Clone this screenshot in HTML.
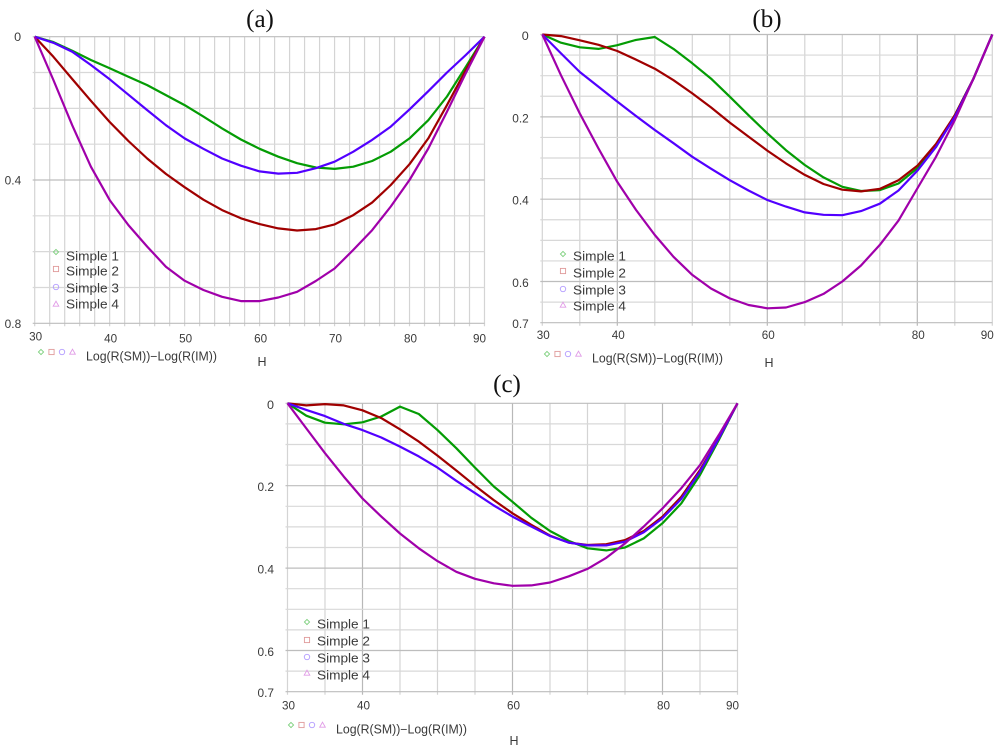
<!DOCTYPE html>
<html lang="en">
<head>
<meta charset="utf-8">
<title>Log(R(SM))-Log(R(IM)) versus H</title>
<style>
html,body{margin:0;padding:0;background:#fff;width:1000px;height:753px;overflow:hidden}
svg{display:block}
.title{font-family:"Liberation Serif",serif;font-size:25px;fill:#111;text-anchor:middle}
.tick,.legend-text,.axis-text{font-family:"Liberation Sans",sans-serif;fill:#3a3a3a;filter:blur(0.25px)}
.tick{font-size:11.5px}
.legend-text{font-size:12.5px}
.axis-text{font-size:12.5px}
</style>
</head>
<body>
<svg id="figure" width="1000" height="753" viewBox="0 0 1000 753" xmlns="http://www.w3.org/2000/svg">
  <text class="title" x="260" y="27">(a)</text>
  <text class="title" x="767" y="27">(b)</text>
  <text class="title" x="507" y="392">(c)</text>
</svg>
<script>
const hValues = [30,32.5,35,37.5,40,42.5,45,47.5,50,52.5,55,57.5,60,62.5,65,67.5,70,72.5,75,77.5,80,82.5,85,87.5,90];
const seriesNames = ["Simple 1","Simple 2","Simple 3","Simple 4"];
const seriesColors = ["#049c04","#a00000","#5200ff","#a000aa"];
const legendColors = ["#7fd07f","#e09a9a","#b39cff","#e09ae6"];

const panelASimple1 = [0,.015,.039,.065,.088,.112,.135,.163,.191,.223,.256,.287,.313,.335,.353,.365,.369,.363,.347,.321,.284,.233,.167,.084,0];
const panelASimple2 = [0,.056,.118,.179,.238,.291,.340,.383,.420,.455,.484,.507,.523,.535,.541,.537,.524,.498,.463,.414,.356,.284,.191,.093,0];
const panelASimple3 = [0,.017,.042,.079,.119,.162,.205,.247,.284,.313,.340,.360,.376,.382,.380,.367,.349,.321,.288,.251,.203,.152,.100,.051,0];
const panelASimple4 = [0,.121,.247,.363,.456,.526,.586,.642,.681,.707,.726,.738,.738,.728,.712,.682,.647,.595,.540,.474,.400,.312,.209,.102,0];

const panelBSimple1 = [0,.020,.031,.035,.026,.013,.006,.035,.070,.107,.151,.196,.240,.281,.317,.347,.370,.380,.378,.362,.325,.273,.196,.107,0];
const panelBSimple2 = [0,.004,.014,.025,.040,.061,.083,.111,.143,.177,.214,.248,.282,.313,.341,.363,.377,.381,.375,.354,.319,.266,.196,.107,0];
const panelBSimple3 = [0,.046,.091,.127,.163,.198,.232,.264,.297,.326,.354,.379,.402,.418,.432,.438,.439,.429,.411,.379,.331,.273,.200,.107,0];
const panelBSimple4 = [0,.099,.192,.277,.358,.426,.487,.540,.584,.617,.641,.657,.665,.663,.650,.630,.600,.561,.511,.452,.374,.297,.208,.107,0];

const panelCSimple1 = [0,.030,.047,.051,.046,.032,.008,.026,.065,.109,.156,.202,.239,.278,.310,.334,.352,.357,.350,.328,.291,.243,.174,.089,0];
const panelCSimple2 = [0,.005,.002,.005,.017,.036,.063,.093,.127,.163,.200,.235,.267,.295,.321,.338,.344,.342,.332,.310,.275,.227,.162,.085,0];
const panelCSimple3 = [0,.016,.031,.050,.065,.083,.105,.129,.156,.188,.218,.248,.275,.299,.322,.338,.345,.345,.336,.313,.279,.232,.166,.085,0];
const panelCSimple4 = [0,.061,.121,.178,.231,.275,.316,.352,.383,.409,.426,.437,.443,.442,.435,.420,.402,.375,.340,.299,.255,.206,.150,.077,0];

const panelAXTicks = [30,40,50,60,70,80,90];
const panelAYTicks = ["0","0.4","0.8"];
const panelBXTicks = [30,40,60,80,90];
const panelBYTicks = ["0","0.2","0.4","0.6","0.7"];
const panelCXTicks = [30,40,60,80,90];
const panelCYTicks = ["0","0.2","0.4","0.6","0.7"];

const svg = document.getElementById('figure');
const NS = 'http://www.w3.org/2000/svg';

function make(parent, tag, attrs, text) {
  const node = document.createElementNS(NS, tag);
  for (const k in attrs) node.setAttribute(k, attrs[k]);
  if (text !== undefined) node.textContent = text;
  parent.appendChild(node);
  return node;
}

function drawMarker(parent, kind, cx, cy, color) {
  let m;
  if (kind === 0) {
    m = make(parent, 'polygon', {points: `${cx},${cy-2.6} ${cx+2.6},${cy} ${cx},${cy+2.6} ${cx-2.6},${cy}`, fill: 'none', stroke: color, 'stroke-width': 0.9});
  } else if (kind === 1) {
    m = make(parent, 'rect', {x: cx-2.6, y: cy-2.6, width: 5.2, height: 5.2, fill: 'none', stroke: color, 'stroke-width': 0.9});
  } else if (kind === 2) {
    m = make(parent, 'circle', {cx: cx, cy: cy, r: 2.7, fill: 'none', stroke: color, 'stroke-width': 0.9});
  } else {
    m = make(parent, 'polygon', {points: `${cx},${cy-2.8} ${cx+2.8},${cy+2.2} ${cx-2.8},${cy+2.2}`, fill: 'none', stroke: color, 'stroke-width': 0.9});
  }
  
  
}

function drawPanel(p) {
  const g = make(svg, 'g', {});
  
  

  const xScale = h => p.left + (h - 30) / 60 * (p.right - p.left);
  const yScale = v => p.top + v / p.yMax * (p.bottom - p.top);

  for (let h = 30; h <= 90; h += p.xStep) {
    const major = p.xMajor && p.xMajor.includes(h);
    const line = make(g, 'line', {x1: xScale(h), x2: xScale(h), y1: p.top, y2: p.bottom + 3, stroke: major ? '#b8b8b8' : '#d4d4d4', 'stroke-width': 1.2});
    
    
  }
  const yCount = Math.round(p.yMax / p.yStep);
  for (let i = 0; i <= yCount; i++) {
    const v = i * p.yStep;
    const major = p.yTicks.includes(String(+v.toFixed(2)));
    const line = make(g, 'line', {x1: p.left - 2, x2: p.right, y1: yScale(v), y2: yScale(v), stroke: major ? '#bdbdbd' : '#d8d8d8', 'stroke-width': 1.2});
    
    
  }

  p.yTicks.forEach(label => {
    const t = make(g, 'text', {class: 'tick', x: p.left - 13.5, y: yScale(+label) + 4 + p.yTickDy, 'text-anchor': 'end', textLength: label.length > 1 ? 16.5 : 7, lengthAdjust: 'spacingAndGlyphs'}, label);
    
    
  });
  p.xTicks.forEach((label, i) => {
    const shift = i === 0 ? 1 : (i === p.xTicks.length - 1 ? -5 : 1);
    const t = make(g, 'text', {class: 'tick', x: xScale(label) + shift, y: p.bottom + (i === 0 ? p.firstTickDy : p.xTickDy), 'text-anchor': 'middle', textLength: 13, lengthAdjust: 'spacingAndGlyphs'}, String(label));
    
    
  });

  p.series.forEach((values, i) => {
    const pts = values.map((v, k) => xScale(hValues[k]).toFixed(1) + ',' + yScale(v).toFixed(1)).join(' ');
    const line = make(g, 'polyline', {points: pts, fill: 'none', stroke: seriesColors[i], 'stroke-width': 2.2, 'stroke-linejoin': 'round'});
    
    
  });

  seriesNames.forEach((name, i) => {
    drawMarker(g, i, p.legendX, p.legendMarkerY[i], legendColors[i]);
    const t = make(g, 'text', {class: 'legend-text', x: p.legendX + 10, y: p.legendTextY[i] + 4.5, textLength: 53, lengthAdjust: 'spacingAndGlyphs'}, name);
    
    
    drawMarker(g, i, p.rowX + i * 10.5, p.rowY, legendColors[i]);
  });

  const yTitle = make(g, 'text', {class: 'axis-text', x: p.rowX + 45, y: p.rowY + 8.5, textLength: 131, lengthAdjust: 'spacingAndGlyphs'}, 'Log(R(SM))\u2212Log(R(IM))');
  
  

  const xTitle = make(g, 'text', {class: 'axis-text', x: p.hX, y: p.hY, 'text-anchor': 'middle', 'font-size': 11}, 'H');
  
  
}

drawPanel({
  id: 'a', left: 34.7, right: 484.5, top: 36.7, bottom: 323.3, yMax: 0.8, yStep: 0.1, xStep: 2,
  xTicks: panelAXTicks, yTicks: panelAYTicks, yTickDy: 0.5, xTickDy: 19, firstTickDy: 17,
  series: [panelASimple1, panelASimple2, panelASimple3, panelASimple4],
  legendX: 56, legendMarkerY: [252, 269, 287, 304], legendTextY: [256, 271, 288, 304],
  rowX: 41, rowY: 352, hX: 262, hY: 366
});
drawPanel({
  id: 'b', left: 542.3, right: 992.3, top: 34.5, bottom: 322.7, yMax: 0.7, yStep: 0.05, xStep: 5, xMajor: [40, 60, 80],
  xTicks: panelBXTicks, yTicks: panelBYTicks, yTickDy: 1.5, xTickDy: 16.5, firstTickDy: 16.5,
  series: [panelBSimple1, panelBSimple2, panelBSimple3, panelBSimple4],
  legendX: 563, legendMarkerY: [254, 271, 289, 305], legendTextY: [256, 273, 290, 306],
  rowX: 547, rowY: 354, hX: 769, hY: 367
});
drawPanel({
  id: 'c', left: 287.5, right: 737.5, top: 403.3, bottom: 691.7, yMax: 0.7, yStep: 0.05, xStep: 5, xMajor: [40, 60, 80],
  xTicks: panelCXTicks, yTicks: panelCYTicks, yTickDy: 1.5, xTickDy: 18, firstTickDy: 18,
  series: [panelCSimple1, panelCSimple2, panelCSimple3, panelCSimple4],
  legendX: 307, legendMarkerY: [622, 640, 657, 673], legendTextY: [624, 641, 658, 675],
  rowX: 291, rowY: 725, hX: 514, hY: 745
});
</script>
</body>
</html>
